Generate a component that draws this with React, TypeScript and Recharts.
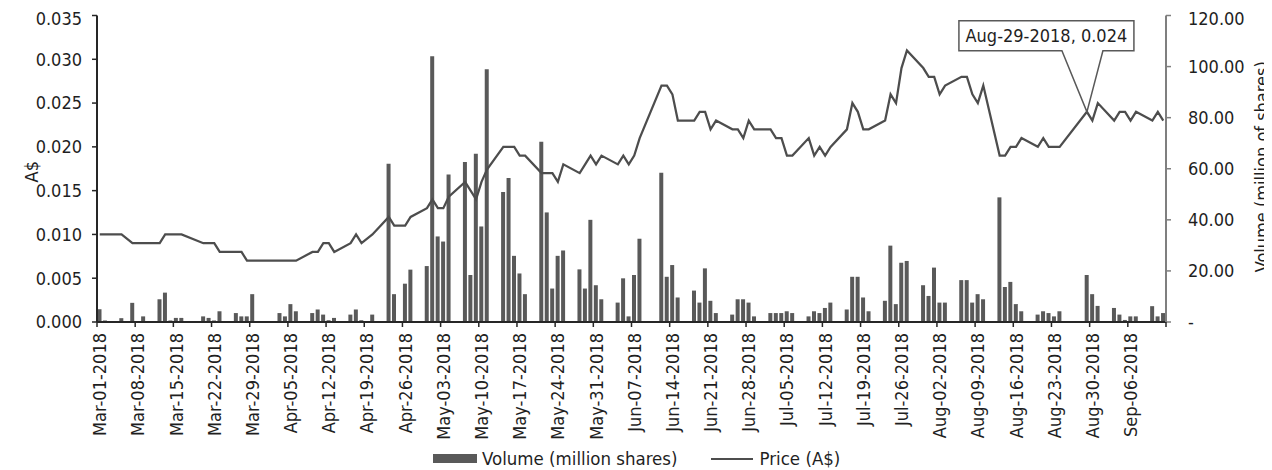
import { Bar, ComposedChart, Legend, Line, ReferenceDot, XAxis, YAxis } from "recharts";

const FONT = "'DejaVu Sans Condensed', 'DejaVu Sans', sans-serif";
const TEXT = "#1f1f1f";
const AXIS = "#262626";
const AXIS_RIGHT = "#7f7f7f";
const BAR = "#595959";
const LINE = "#4d4d4d";

// trading days with a recorded trade (no-trade days are left empty)
const tradeDates = [
  "Mar-01-2018", "Mar-02-2018",
  "Mar-05-2018", "Mar-07-2018", "Mar-09-2018",
  "Mar-12-2018", "Mar-13-2018", "Mar-14-2018", "Mar-15-2018", "Mar-16-2018",
  "Mar-20-2018", "Mar-21-2018", "Mar-22-2018", "Mar-23-2018",
  "Mar-26-2018", "Mar-27-2018", "Mar-28-2018", "Mar-29-2018",
  "Apr-03-2018", "Apr-04-2018", "Apr-05-2018", "Apr-06-2018",
  "Apr-09-2018", "Apr-10-2018", "Apr-11-2018", "Apr-12-2018", "Apr-13-2018",
  "Apr-16-2018", "Apr-17-2018", "Apr-18-2018", "Apr-20-2018",
  "Apr-23-2018", "Apr-24-2018", "Apr-26-2018", "Apr-27-2018",
  "Apr-30-2018", "May-01-2018", "May-02-2018", "May-03-2018", "May-04-2018",
  "May-07-2018", "May-08-2018", "May-09-2018", "May-10-2018", "May-11-2018",
  "May-14-2018", "May-15-2018", "May-16-2018", "May-17-2018", "May-18-2018",
  "May-21-2018", "May-22-2018", "May-23-2018", "May-24-2018", "May-25-2018",
  "May-28-2018", "May-29-2018", "May-30-2018", "May-31-2018", "Jun-01-2018",
  "Jun-04-2018", "Jun-05-2018", "Jun-06-2018", "Jun-07-2018", "Jun-08-2018",
  "Jun-12-2018", "Jun-13-2018", "Jun-14-2018", "Jun-15-2018",
  "Jun-18-2018", "Jun-19-2018", "Jun-20-2018", "Jun-21-2018", "Jun-22-2018",
  "Jun-25-2018", "Jun-26-2018", "Jun-27-2018", "Jun-28-2018", "Jun-29-2018",
  "Jul-02-2018", "Jul-03-2018", "Jul-04-2018", "Jul-05-2018", "Jul-06-2018",
  "Jul-09-2018", "Jul-10-2018", "Jul-11-2018", "Jul-12-2018", "Jul-13-2018",
  "Jul-16-2018", "Jul-17-2018", "Jul-18-2018", "Jul-19-2018", "Jul-20-2018",
  "Jul-23-2018", "Jul-24-2018", "Jul-25-2018", "Jul-26-2018", "Jul-27-2018",
  "Jul-30-2018", "Jul-31-2018", "Aug-01-2018", "Aug-02-2018", "Aug-03-2018",
  "Aug-06-2018", "Aug-07-2018", "Aug-08-2018", "Aug-09-2018", "Aug-10-2018",
  "Aug-13-2018", "Aug-14-2018", "Aug-15-2018", "Aug-16-2018", "Aug-17-2018",
  "Aug-20-2018", "Aug-21-2018", "Aug-22-2018", "Aug-23-2018", "Aug-24-2018",
  "Aug-29-2018", "Aug-30-2018", "Aug-31-2018",
  "Sep-03-2018", "Sep-04-2018", "Sep-05-2018", "Sep-06-2018", "Sep-07-2018",
  "Sep-10-2018", "Sep-11-2018", "Sep-12-2018",
];

// million shares
const volume = [
  5.0, 0.6,
  1.5, 7.5, 2.2,
  8.9, 11.5, 0.6, 1.6, 1.6,
  2.2, 1.6, 0.6, 4.2,
  3.5, 2.2, 2.2, 10.9,
  3.5, 2.2, 7.0, 4.2,
  3.5, 4.9, 2.9, 0.7, 1.6,
  2.9, 4.9, 0.7, 2.9,
  62, 10.9, 15, 20.5,
  21.9, 104, 33.5, 31.5, 57.7,
  62.6, 18.4, 65.9, 37.4, 99,
  50.9, 56.4, 25.9, 19, 10.9,
  70.6, 42.9, 13.1, 25.9, 28,
  20.6, 13.1, 40, 14.4, 8.9,
  7.6, 17.1, 2.2, 18.4, 32.6,
  58.4, 17.7, 22.3, 9.6,
  12.3, 7.6, 21, 8.3, 3.5,
  2.9, 8.9, 8.9, 7.6, 2.2,
  3.5, 3.5, 3.5, 4.2, 3.5,
  2.2, 4.2, 3.5, 5.5, 7.6,
  4.9, 17.7, 17.7, 9.6, 4.2,
  8.3, 29.9, 7, 23.2, 23.9,
  14.4, 10.2, 21.3, 7.6, 7.6,
  16.4, 16.4, 7.6, 10.9, 8.9,
  48.8, 13.7, 15.7, 7, 4.2,
  2.9, 4.2, 3.5, 2.2, 4.2,
  18.4, 10.9, 6.3,
  5.5, 2.9, 0.8, 2.2, 2.2,
  6.2, 2.2, 3.5,
];

// closing price, A$
const price = [
  0.01, 0.01,
  0.01, 0.009, 0.009,
  0.009, 0.01, 0.01, 0.01, 0.01,
  0.009, 0.009, 0.009, 0.008,
  0.008, 0.008, 0.007, 0.007,
  0.007, 0.007, 0.007, 0.007,
  0.008, 0.008, 0.009, 0.009, 0.008,
  0.009, 0.01, 0.009, 0.01,
  0.012, 0.011, 0.011, 0.012,
  0.013, 0.014, 0.013, 0.013, 0.0143,
  0.016, 0.015, 0.014, 0.016, 0.0174,
  0.02, 0.02, 0.02, 0.019, 0.019,
  0.017, 0.017, 0.017, 0.016, 0.018,
  0.017, 0.018, 0.019, 0.018, 0.019,
  0.018, 0.019, 0.018, 0.019, 0.021,
  0.027, 0.027, 0.026, 0.023,
  0.023, 0.024, 0.024, 0.022, 0.023,
  0.022, 0.022, 0.021, 0.023, 0.022,
  0.022, 0.021, 0.021, 0.019, 0.019,
  0.021, 0.019, 0.02, 0.019, 0.02,
  0.022, 0.025, 0.024, 0.022, 0.022,
  0.023, 0.026, 0.025, 0.029, 0.031,
  0.029, 0.028, 0.028, 0.026, 0.027,
  0.028, 0.028, 0.026, 0.025, 0.027,
  0.019, 0.019, 0.02, 0.02, 0.021,
  0.02, 0.021, 0.02, 0.02, 0.02,
  0.024, 0.023, 0.025,
  0.023, 0.024, 0.024, 0.023, 0.024,
  0.023, 0.024, 0.023,
];

const dateTicks = [
  "Mar-01-2018", "Mar-08-2018", "Mar-15-2018", "Mar-22-2018", "Mar-29-2018",
  "Apr-05-2018", "Apr-12-2018", "Apr-19-2018", "Apr-26-2018",
  "May-03-2018", "May-10-2018", "May-17-2018", "May-24-2018", "May-31-2018",
  "Jun-07-2018", "Jun-14-2018", "Jun-21-2018", "Jun-28-2018",
  "Jul-05-2018", "Jul-12-2018", "Jul-19-2018", "Jul-26-2018",
  "Aug-02-2018", "Aug-09-2018", "Aug-16-2018", "Aug-23-2018", "Aug-30-2018",
  "Sep-06-2018",
];
const priceTicks = [0, 0.005, 0.01, 0.015, 0.02, 0.025, 0.03, 0.035];
const volumeTicks = [0, 20, 40, 60, 80, 100, 120];

const calloutDate = "Aug-29-2018";
const calloutPrice = price[tradeDates.indexOf(calloutDate)];

const MONTHS = ["Jan", "Feb", "Mar", "Apr", "May", "Jun", "Jul", "Aug", "Sep", "Oct", "Nov", "Dec"];
const DAY_MS = 86400000;

function dayLabel(t: number) {
  const d = new Date(t);
  const dd = String(d.getUTCDate()).padStart(2, "0");
  return `${MONTHS[d.getUTCMonth()]}-${dd}-${d.getUTCFullYear()}`;
}

// one row per calendar day, so weekends and holidays show as gaps on the date axis
const rows = (() => {
  const index = new Map(tradeDates.map((d, i) => [d, i]));
  const out: { date: string; volume: number | null; price: number | null }[] = [];
  for (let t = Date.UTC(2018, 2, 1); t <= Date.UTC(2018, 8, 12); t += DAY_MS) {
    const date = dayLabel(t);
    const i = index.get(date);
    out.push({
      date,
      volume: i === undefined ? null : volume[i],
      price: i === undefined ? null : price[i],
    });
  }
  return out;
})();

type TickProps = {
  x?: number;
  y?: number;
  payload?: { value: string; offset?: number };
};

// tick marks sit on the day boundaries, labels in the middle of the day slot
function DateTick({ x = 0, y = 0, payload }: TickProps) {
  const half = payload?.offset ?? 2.7;
  const left = x - half;
  const isLast = payload?.value === dateTicks[dateTicks.length - 1];
  return (
    <g>
      <line x1={left} y1={y} x2={left} y2={y + 5} stroke={AXIS} strokeWidth={1.5} />
      {isLast && (
        <line x1={left + 14 * half} y1={y} x2={left + 14 * half} y2={y + 5} stroke={AXIS} strokeWidth={1.5} />
      )}
      <text
        transform={`translate(${x},${y + 11}) rotate(-90)`}
        textAnchor="end"
        dominantBaseline="central"
        fontSize={18}
        fontFamily={FONT}
        fill={TEXT}
      >
        {payload?.value}
      </text>
    </g>
  );
}

type TitleProps = { viewBox?: { x?: number; y?: number; width?: number; height?: number } };

function PriceTitle({ viewBox }: TitleProps) {
  const cy = (viewBox?.y ?? 0) + (viewBox?.height ?? 0) / 2 + 3;
  return (
    <text
      transform={`translate(23,${cy}) rotate(-90)`}
      textAnchor="middle"
      dominantBaseline="central"
      fontSize={18}
      fontFamily={FONT}
      fill={TEXT}
    >
      A$
    </text>
  );
}

function VolumeTitle({ viewBox }: TitleProps) {
  const cy = (viewBox?.y ?? 0) + (viewBox?.height ?? 0) / 2 - 2;
  const x = (viewBox?.x ?? 0) + 102;
  return (
    <text
      transform={`translate(${x},${cy}) rotate(-90)`}
      textAnchor="middle"
      fontSize={18}
      fontFamily={FONT}
      fill={TEXT}
    >
      Volume (million of shares)
    </text>
  );
}

function Callout({ cx = 0, cy = 0 }: { cx?: number; cy?: number }) {
  const top = cy - 91;
  const bottom = cy - 61;
  const left = cx - 128;
  const right = cx + 47;
  const d = `M${left},${top} H${right} V${bottom} H${cx + 16} L${cx},${cy} L${cx - 25},${bottom} H${left} Z`;
  return (
    <g>
      <path d={d} fill="#ffffff" stroke={BAR} strokeWidth={1.5} />
      <text
        x={(left + right) / 2}
        y={(top + bottom) / 2}
        textAnchor="middle"
        dominantBaseline="central"
        fontSize={18}
        fontFamily={FONT}
        fill={TEXT}
      >
        {`${calloutDate}, ${calloutPrice.toFixed(3)}`}
      </text>
    </g>
  );
}

function LegendContent() {
  return (
    <div
      style={{
        height: 28,
        boxSizing: "border-box",
        paddingTop: 5,
        paddingLeft: 425,
        display: "flex",
        alignItems: "center",
        fontFamily: FONT,
        fontSize: 18.5,
        color: TEXT,
        whiteSpace: "nowrap",
      }}
    >
      <span style={{ width: 44, height: 9, background: BAR, marginRight: 5, flexShrink: 0 }} />
      <span>Volume (million shares)</span>
      <span style={{ width: 42, height: 2, background: LINE, marginLeft: 33, marginRight: 7, flexShrink: 0 }} />
      <span>Price (A$)</span>
    </div>
  );
}

export default function App() {
  return (
    <ComposedChart
      width={1264}
      height={462}
      data={rows}
      margin={{ top: 7.5, right: 0, bottom: 0, left: 0 }}
      barCategoryGap={0.5}
    >
      <XAxis
        dataKey="date"
        ticks={dateTicks}
        interval={0}
        height={120}
        tickSize={0}
        tickMargin={0}
        tickLine={false}
        tick={<DateTick />}
        axisLine={{ stroke: AXIS, strokeWidth: 2 }}
      />
      <YAxis
        yAxisId="price"
        domain={[0, 0.035]}
        ticks={priceTicks}
        width={89}
        tickSize={5}
        tickMargin={10}
        tickFormatter={(v: number) => v.toFixed(3)}
        tick={{ fill: TEXT, fontSize: 18, fontFamily: FONT }}
        tickLine={{ stroke: AXIS, strokeWidth: 1.5 }}
        axisLine={{ stroke: AXIS, strokeWidth: 2 }}
        label={{ content: <PriceTitle /> }}
      />
      <YAxis
        yAxisId="volume"
        orientation="right"
        domain={[0, 120]}
        ticks={volumeTicks}
        width={106}
        tickSize={5}
        tickMargin={17}
        tickFormatter={(v: number) => (v === 0 ? "-" : v.toFixed(2))}
        tick={{ fill: TEXT, fontSize: 18, fontFamily: FONT, textAnchor: "start" }}
        tickLine={{ stroke: AXIS_RIGHT, strokeWidth: 1.5 }}
        axisLine={{ stroke: AXIS_RIGHT, strokeWidth: 2 }}
        label={{ content: <VolumeTitle /> }}
      />
      <Legend verticalAlign="bottom" content={<LegendContent />} />
      <Bar yAxisId="volume" dataKey="volume" fill={BAR} isAnimationActive={false} />
      <Line
        yAxisId="price"
        type="linear"
        dataKey="price"
        stroke={LINE}
        strokeWidth={2.25}
        dot={false}
        activeDot={false}
        connectNulls
        isAnimationActive={false}
      />
      <ReferenceDot yAxisId="price" x={calloutDate} y={calloutPrice} r={0} shape={<Callout />} />
    </ComposedChart>
  );
}
